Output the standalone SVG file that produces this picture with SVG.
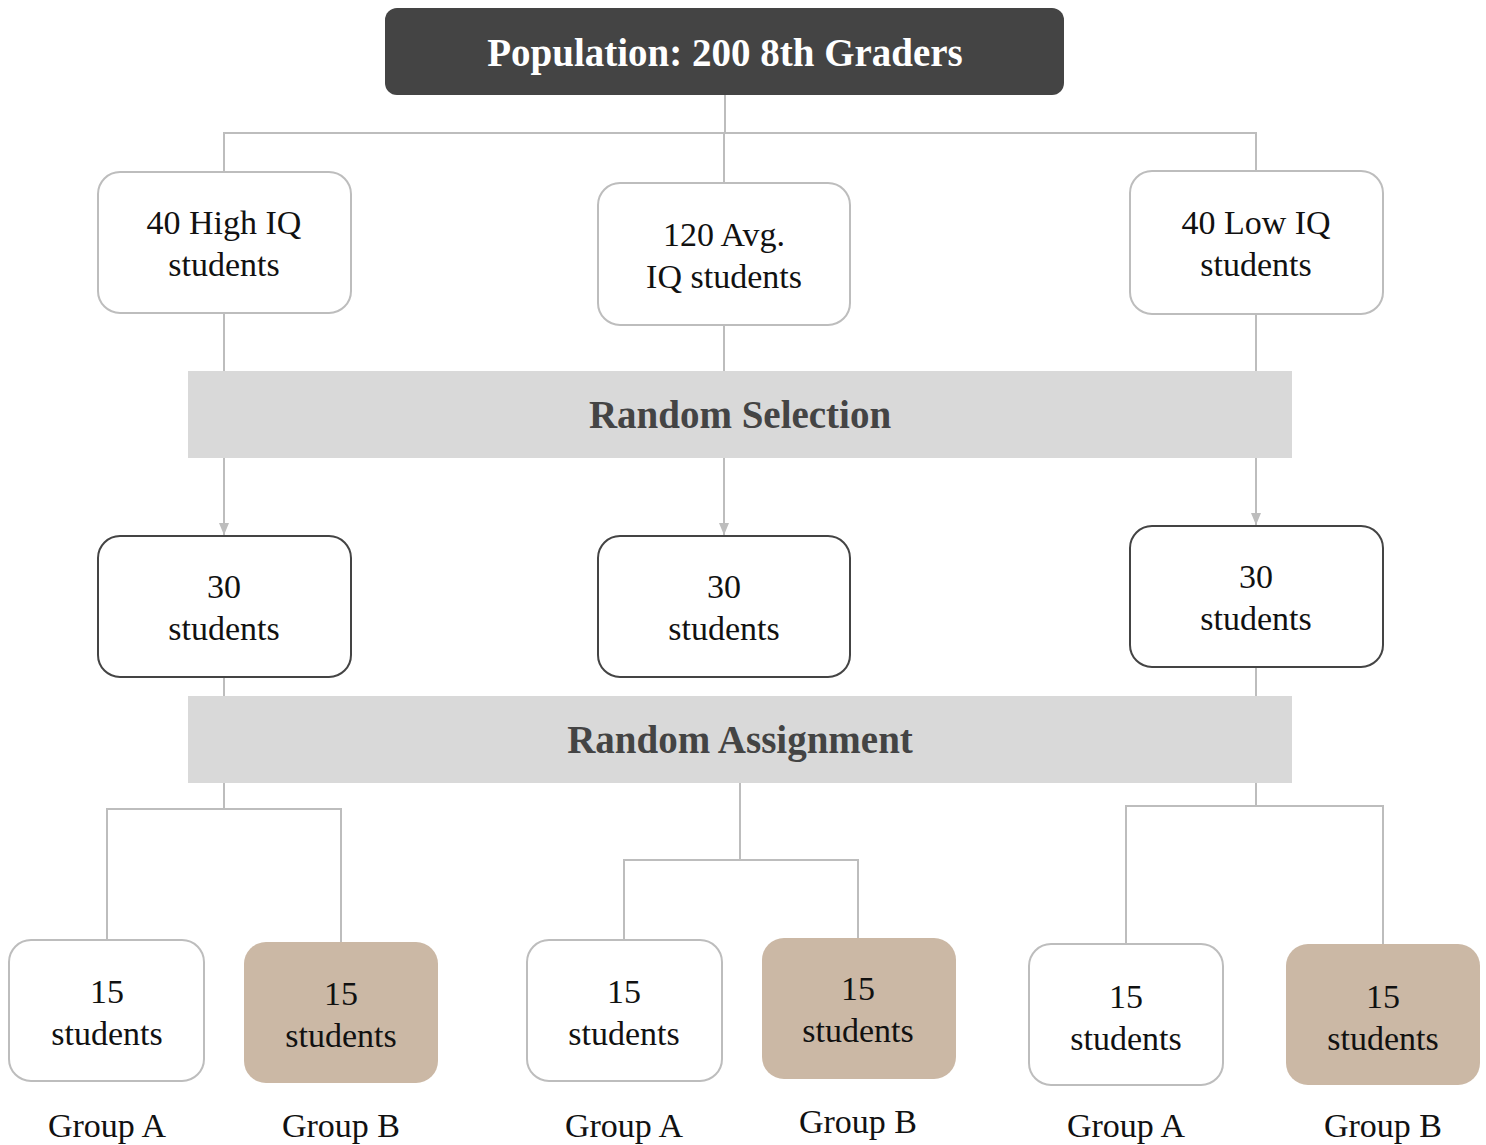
<svg xmlns="http://www.w3.org/2000/svg" width="1486" height="1145" viewBox="0 0 1486 1145">
  <style>
    .bg { fill: #ffffff; }
    .link { fill: none; stroke: #bdbdbd; stroke-width: 2; }
    .title-box { fill: #444444; }
    .title { font-family: "Liberation Serif", "DejaVu Serif", serif; font-weight: bold; font-size: 39px; fill: #ffffff; text-anchor: middle; }
    .band { fill: #d9d9d9; }
    .band-text { font-family: "Liberation Serif", "DejaVu Serif", serif; font-weight: bold; font-size: 39px; fill: #444444; text-anchor: middle; }
    .box-light { fill: #ffffff; stroke: #bdbdbd; stroke-width: 2; }
    .box-dark { fill: #ffffff; stroke: #444444; stroke-width: 2; }
    .box-tan { fill: #cbb8a5; }
    .label { font-family: "Liberation Serif", "DejaVu Serif", serif; font-size: 34px; fill: #111111; text-anchor: middle; }
  </style>
  <defs>
    <marker id="arrow" viewBox="0 0 12 10" refX="12" refY="5" markerWidth="12" markerHeight="10" markerUnits="userSpaceOnUse" orient="auto">
      <path d="M0,0 L12,5 L0,10 Z" fill="#bdbdbd"/>
    </marker>
  </defs>

  <rect class="bg" x="0" y="0" width="1486" height="1145"/>

  <!-- connectors -->
  <g id="connectors">
    <!-- population to strata -->
    <path class="link" d="M725,95 V133"/>
    <path class="link" d="M224,172 V133 H1256 V171"/>
    <path class="link" d="M724,133 V183"/>
    <!-- strata to selection band -->
    <path class="link" d="M224,313 V371"/>
    <path class="link" d="M724,325 V371"/>
    <path class="link" d="M1256,314 V371"/>
    <!-- selection band to samples -->
    <path class="link" d="M224,458 V535" marker-end="url(#arrow)"/>
    <path class="link" d="M724,458 V535" marker-end="url(#arrow)"/>
    <path class="link" d="M1256,458 V525" marker-end="url(#arrow)"/>
    <!-- samples to assignment band -->
    <path class="link" d="M224,677 V696"/>
    <path class="link" d="M1256,667 V696"/>
    <!-- assignment band to groups -->
    <path class="link" d="M224,783 V809"/>
    <path class="link" d="M107,940 V809 H341 V942"/>
    <path class="link" d="M740,783 V860"/>
    <path class="link" d="M624,940 V860 H858 V938"/>
    <path class="link" d="M1256,783 V806"/>
    <path class="link" d="M1126,944 V806 H1383 V944"/>
  </g>

  <g id="population">
    <rect class="title-box" x="385" y="8" width="679" height="87" rx="12"/>
    <text class="title" x="725" y="66">Population: 200 8th Graders</text>
  </g>

  <g id="high-iq">
    <rect class="box-light" x="98" y="172" width="253" height="141" rx="22"/>
    <text class="label" x="224" y="234">40 High IQ</text>
    <text class="label" x="224" y="276">students</text>
  </g>
  <g id="avg-iq">
    <rect class="box-light" x="598" y="183" width="252" height="142" rx="22"/>
    <text class="label" x="724" y="246">120 Avg.</text>
    <text class="label" x="724" y="288">IQ students</text>
  </g>
  <g id="low-iq">
    <rect class="box-light" x="1130" y="171" width="253" height="143" rx="22"/>
    <text class="label" x="1256" y="234">40 Low IQ</text>
    <text class="label" x="1256" y="276">students</text>
  </g>

  <g id="random-selection">
    <rect class="band" x="188" y="371" width="1104" height="87"/>
    <text class="band-text" x="740" y="428">Random Selection</text>
  </g>

  <g id="sample-high">
    <rect class="box-dark" x="98" y="536" width="253" height="141" rx="22"/>
    <text class="label" x="224" y="598">30</text>
    <text class="label" x="224" y="640">students</text>
  </g>
  <g id="sample-avg">
    <rect class="box-dark" x="598" y="536" width="252" height="141" rx="22"/>
    <text class="label" x="724" y="598">30</text>
    <text class="label" x="724" y="640">students</text>
  </g>
  <g id="sample-low">
    <rect class="box-dark" x="1130" y="526" width="253" height="141" rx="22"/>
    <text class="label" x="1256" y="588">30</text>
    <text class="label" x="1256" y="630">students</text>
  </g>

  <g id="random-assignment">
    <rect class="band" x="188" y="696" width="1104" height="87"/>
    <text class="band-text" x="740" y="753">Random Assignment</text>
  </g>

  <g id="high-group-a">
    <rect class="box-light" x="9" y="940" width="195" height="141" rx="22"/>
    <text class="label" x="107" y="1003">15</text>
    <text class="label" x="107" y="1045">students</text>
    <text class="label" x="107" y="1137">Group A</text>
  </g>
  <g id="high-group-b">
    <rect class="box-tan" x="244" y="942" width="194" height="141" rx="22"/>
    <text class="label" x="341" y="1005">15</text>
    <text class="label" x="341" y="1047">students</text>
    <text class="label" x="341" y="1137">Group B</text>
  </g>
  <g id="avg-group-a">
    <rect class="box-light" x="527" y="940" width="195" height="141" rx="22"/>
    <text class="label" x="624" y="1003">15</text>
    <text class="label" x="624" y="1045">students</text>
    <text class="label" x="624" y="1137">Group A</text>
  </g>
  <g id="avg-group-b">
    <rect class="box-tan" x="762" y="938" width="194" height="141" rx="22"/>
    <text class="label" x="858" y="1000">15</text>
    <text class="label" x="858" y="1042">students</text>
    <text class="label" x="858" y="1133">Group B</text>
  </g>
  <g id="low-group-a">
    <rect class="box-light" x="1029" y="944" width="194" height="141" rx="22"/>
    <text class="label" x="1126" y="1008">15</text>
    <text class="label" x="1126" y="1050">students</text>
    <text class="label" x="1126" y="1137">Group A</text>
  </g>
  <g id="low-group-b">
    <rect class="box-tan" x="1286" y="944" width="194" height="141" rx="22"/>
    <text class="label" x="1383" y="1008">15</text>
    <text class="label" x="1383" y="1050">students</text>
    <text class="label" x="1383" y="1137">Group B</text>
  </g>
</svg>
